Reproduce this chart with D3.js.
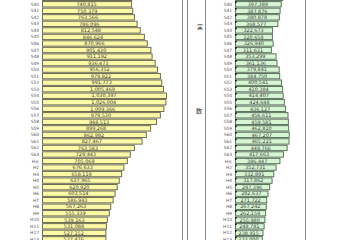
<!DOCTYPE html>
<html>
<head>
<meta charset="UTF-8">
<title>実数</title>
<style>
    body { margin: 0; background: white; }
    svg { display: block; }
    .lbl { font-family: "DejaVu Sans", sans-serif; font-size: 4.4px; fill: #5a5a5a; }
    .val { font-family: "DejaVu Sans", sans-serif; font-size: 4.9px; fill: #3a3a3a; }
</style>
</head>
<body>
<script src="https://d3js.org/d3.v7.min.js"></script>
<script>
    var width = 360, height = 240;

    var years = ["S39", "S40", "S41", "S42", "S43", "S44", "S45", "S46", "S47", "S48", "S49",
        "S50", "S51", "S52", "S53", "S54", "S55", "S56", "S57", "S58", "S59",
        "S60", "S61", "S62", "S63", "H元", "H2", "H3", "H4", "H5", "H6",
        "H7", "H8", "H9", "H10", "H11", "H12", "H13"];

    // left table (yellow bars)
    var leftValues = [742000, 740815, 750379, 763566, 786096, 812548, 846624, 870966, 901430, 911192, 936473,
        956352, 979822, 991773, 1005469, 1030397, 1026004, 1009366, 979530, 948513, 899268,
        862992, 827467, 763583, 729443, 705069, 676633, 658119, 637965, 620920, 603514,
        586943, 567263, 555339, 539163, 531088, 527152, 527476];

    // right table (green bars)
    var rightValues = [410000, 397389, 387876, 380878, 368577, 322673, 320658, 326940, 311631, 353299, 361136,
        379841, 384750, 400541, 410384, 414407, 424648, 436127, 456611, 459581, 462810,
        467207, 465221, 448766, 417663, 386447, 352731, 332891, 317862, 297396, 282637,
        271722, 267242, 262159, 255980, 248781, 238915, 233000];

    var fmt = d3.format(",");

    var svg = d3.select("body").append("svg")
        .attr("width", width)
        .attr("height", height);

    var y = d3.scaleBand()
        .domain(years)
        .range([-5.5, -5.5 + years.length * 6.53])
        .paddingInner(0.18)
        .paddingOuter(0.09);

    var xLeft = d3.scaleLinear().domain([0, 1000000]).range([42, 162.3]);
    var xRight = d3.scaleLinear().domain([0, 1000000]).range([235, 350]);

    // frame lines
    [182, 187, 205, 305].forEach(function(x) {
        svg.append("line")
            .attr("x1", x + 0.5).attr("x2", x + 0.5)
            .attr("y1", 0).attr("y2", height)
            .attr("stroke", "#8a8a8a").attr("stroke-width", 1);
    });

    // vertical heading
    svg.append("text").attr("x", 200).attr("y", 29)
        .attr("text-anchor", "middle")
        .style("font-family", "Noto Sans CJK JP").style("font-size", "6px").style("fill", "#333")
        .text("実");
    svg.append("text").attr("x", 199).attr("y", 113)
        .attr("text-anchor", "middle")
        .style("font-family", "Noto Sans CJK JP").style("font-size", "6px").style("fill", "#333")
        .text("数");

    function drawPanel(values, x, labelX, fill, stroke, marker) {
        var g = svg.append("g");
        var rows = g.selectAll("g").data(years).enter().append("g");

        rows.append("rect")
            .attr("x", x(0) + 0.5)
            .attr("y", function(d) { return y(d); })
            .attr("width", function(d, i) { return x(values[i]) - x(0); })
            .attr("height", y.bandwidth())
            .attr("fill", fill)
            .attr("stroke", stroke)
            .attr("stroke-width", 0.9);

        if (marker) {
            rows.append("rect")
                .attr("x", x(0))
                .attr("y", function(d) { return y(d) - 0.3; })
                .attr("width", 1.6)
                .attr("height", 1.8)
                .attr("fill", "#111");
        }

        // the top row is cut off at the edge in the reference: no texts for it
        var texts = rows.filter(function(d, i) { return i > 0; });

        texts.append("text")
            .attr("class", "lbl")
            .attr("x", labelX)
            .attr("y", function(d) { return y(d) + y.bandwidth() / 2; })
            .attr("dy", "0.35em")
            .attr("text-anchor", "end")
            .text(function(d) { return d; });

        texts.append("text")
            .attr("class", "val")
            .attr("x", function(d) { var i = years.indexOf(d); return (x(0) + x(values[i])) / 2; })
            .attr("y", function(d) { return y(d) + y.bandwidth() / 2; })
            .attr("dy", "0.36em")
            .attr("text-anchor", "middle")
            .text(function(d) { return fmt(values[years.indexOf(d)]); });
    }

    drawPanel(leftValues, xLeft, 39, "#fbf8a8", "#5f5f45", false);
    drawPanel(rightValues, xRight, 232, "#d6f5d2", "#4f6650", true);
</script>
</body>
</html>
